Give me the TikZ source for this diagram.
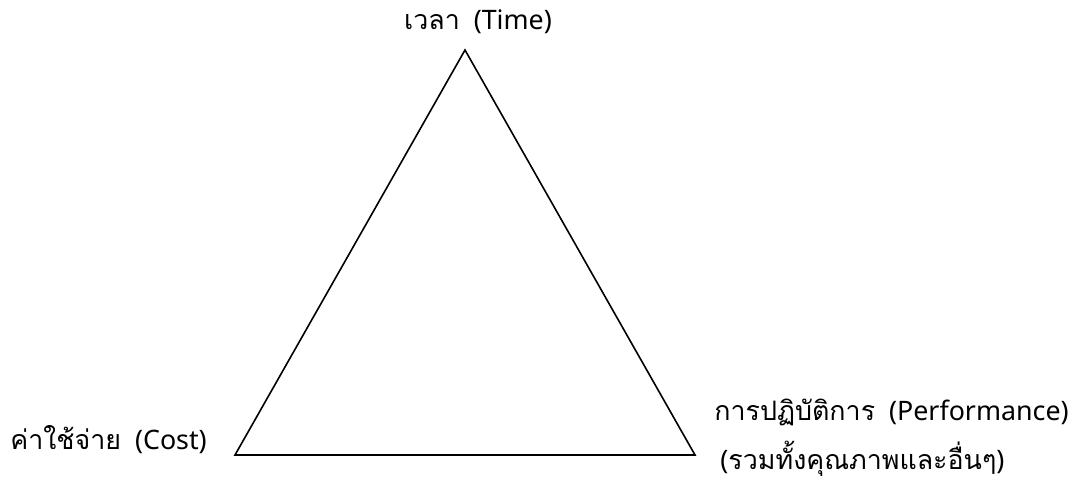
\documentclass[tikz,border=0pt]{standalone}
\usepackage{fontspec}
\setmainfont{Noto Sans}
\newfontfamily\thaifont[Script=Thai]{Loma}
\newcommand{\thaitxt}[1]{{\thaifont #1}}
\usetikzlibrary{positioning}

\begin{document}
\begin{tikzpicture}[x=0.5pt, y=-0.5pt, font=\fontsize{13.4}{16}\selectfont,
  lbl/.style={inner sep=0pt}]
  \useasboundingbox (0,0) rectangle (1085,481);
  % Triangle corners
  \coordinate (timept) at (465,50);
  \coordinate (costpt) at (235,455);
  \coordinate (perfpt) at (695,455);
  \draw[thick] (timept) -- (costpt) -- (perfpt) -- cycle;
  % Labels
  \node[lbl] (time) at (478,22) {\thaitxt{เวลา}\ \ (Time)};
  \node[lbl, anchor=west] (cost) at (10,440) {\thaitxt{ค่าใช้จ่าย}\ \ (Cost)};
  \node[lbl, anchor=west] (perf) at (714,412) {\thaitxt{การปฏิบัติการ}\ \ (Performance)};
  \node[lbl, anchor=west] (perfnote) at (720,459) {(\thaitxt{รวมทั้งคุณภาพและอื่นๆ})};
\end{tikzpicture}
\end{document}
